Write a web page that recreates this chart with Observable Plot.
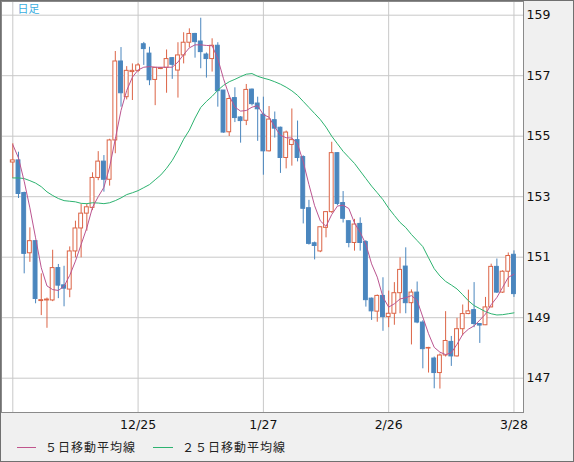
<!DOCTYPE html>
<html><head><meta charset="utf-8">
<script src="https://cdn.jsdelivr.net/npm/d3@7"></script>
<script src="https://cdn.jsdelivr.net/npm/@observablehq/plot@0.6"></script>
<style>
html,body{margin:0;padding:0;background:#fff}
#wrap{position:relative;width:574px;height:462px;box-sizing:border-box;border:1px solid #707070;background:#f0f0f0;overflow:hidden}
#chart{position:absolute;left:0;top:0}
#chart svg{display:block}
.lg-line{position:absolute;height:1px}
.lg-text{position:absolute;font-family:"Noto Sans CJK JP",sans-serif;font-size:12px;letter-spacing:1px;line-height:16px;color:#222;white-space:nowrap}
</style></head>
<body>
<div id="wrap"><div id="chart"></div>
<div class="lg-line" style="left:16px;top:446px;width:19px;background:#c0558c"></div>
<div class="lg-text" style="left:44px;top:438px">５日移動平均線</div>
<div class="lg-line" style="left:152px;top:446px;width:20px;background:#2db370"></div>
<div class="lg-text" style="left:181px;top:438px">２５日移動平均線</div>
</div>
<script>
const opens = [154.13,154.20,153.12,151.13,151.53,149.55,149.57,149.57,150.64,150.07,
149.93,151.19,151.95,152.44,152.63,153.62,154.16,153.56,154.86,157.47,
156.29,157.12,157.16,158.04,157.73,156.86,157.22,157.26,157.58,157.17,
157.67,158.09,158.38,158.13,157.70,157.55,157.99,156.51,155.13,156.26,
155.62,155.51,156.54,156.08,155.71,154.50,155.53,155.28,154.28,154.71,
154.87,154.31,152.62,151.46,151.19,151.97,152.49,154.44,152.79,152.19,
151.47,152.10,151.50,149.63,149.20,149.72,149.02,149.13,149.81,150.69,
149.48,149.83,148.84,147.98,147.65,147.17,147.75,148.20,147.72,148.62,
149.12,149.25,148.79,148.75,149.34,150.68,149.83,150.52,151.08];
const closes = [154.20,153.09,151.11,151.53,149.62,149.58,149.60,150.64,150.06,149.96,
151.19,151.95,152.44,152.65,153.62,154.16,153.56,154.86,157.47,156.42,
157.16,157.16,157.34,157.88,156.85,157.26,157.25,157.55,157.36,157.67,
158.09,158.38,158.11,157.78,157.55,157.99,156.49,155.12,156.23,155.60,
155.50,156.53,156.06,155.89,154.50,155.55,155.25,154.28,155.12,154.87,
154.28,152.60,151.44,151.37,151.99,152.49,154.44,152.76,152.27,151.47,
152.08,151.47,149.58,149.21,149.72,149.02,149.13,149.81,150.58,149.48,
149.83,148.84,147.96,148.00,147.17,147.75,148.23,147.72,148.62,149.12,
149.21,148.79,148.74,149.34,150.68,149.83,150.52,151.04,149.78];
const highs = [154.75,154.47,153.15,151.97,151.55,150.45,149.65,151.23,150.76,150.70,
151.34,152.19,152.74,152.76,153.79,154.49,154.36,154.90,157.80,157.93,
157.30,157.39,157.40,158.10,157.94,157.26,157.27,157.85,157.60,158.09,
158.42,158.55,158.40,158.90,157.75,158.22,158.09,156.51,156.34,156.60,
155.65,156.71,156.56,156.29,156.29,155.98,155.80,155.30,155.17,155.90,
155.50,154.35,152.88,151.50,152.00,152.50,154.80,154.45,153.17,152.20,
152.25,152.30,151.55,149.65,149.75,150.32,149.88,150.16,150.98,151.31,
149.92,150.18,148.90,148.02,147.70,147.80,149.20,148.38,148.98,149.42,
149.91,150.16,148.80,149.67,150.77,150.94,150.55,151.14,151.21];
const lows = [153.60,152.94,150.45,150.83,149.46,149.07,148.65,149.53,149.63,149.36,
149.66,150.98,150.98,151.86,152.54,153.53,153.15,153.35,154.42,155.96,
156.20,156.18,157.10,157.34,156.67,156.01,157.20,156.42,156.88,156.26,
157.39,157.92,157.58,157.23,156.92,157.12,155.96,155.10,154.99,155.45,
154.77,155.35,156.00,154.83,153.71,154.48,154.94,153.77,153.92,154.01,
154.15,152.10,151.40,150.91,151.15,151.64,152.45,152.70,152.13,151.31,
151.20,151.20,149.35,148.91,148.85,148.55,148.67,148.75,149.13,149.13,
148.10,148.80,147.31,147.17,146.65,146.64,147.70,147.39,147.70,148.40,
149.10,148.67,148.15,148.74,149.33,149.80,149.80,150.00,149.67];
const ma5 = [154.72,154.28,153.51,152.63,151.64,150.65,150.05,149.93,149.90,150.04,
150.40,150.87,151.42,151.97,152.65,153.00,153.31,153.98,154.91,155.85,
156.51,156.95,157.19,157.28,157.30,157.28,157.28,157.28,157.28,157.45,
157.70,157.92,158.02,158.02,158.00,157.99,157.56,156.90,156.34,155.96,
155.83,155.85,155.96,156.01,155.71,155.63,155.30,155.03,154.95,154.94,
154.75,154.15,153.40,152.70,152.20,152.02,152.41,152.69,152.72,152.61,
152.13,151.82,151.43,150.78,150.34,149.68,149.35,149.46,149.62,149.66,
149.73,149.57,149.02,148.47,148.02,147.86,147.78,147.84,148.12,148.45,
148.62,148.73,148.92,149.12,149.43,149.67,150.00,150.33,150.44];
const ma25 = [153.62,153.62,153.60,153.53,153.45,153.33,153.16,153.04,152.94,152.87,
152.85,152.83,152.78,152.77,152.80,152.79,152.77,152.80,152.87,152.96,
153.07,153.13,153.20,153.30,153.40,153.56,153.72,153.94,154.20,154.53,
154.90,155.20,155.60,155.95,156.15,156.32,156.52,156.68,156.80,156.88,
156.97,157.05,157.07,156.98,156.92,156.87,156.80,156.72,156.62,156.50,
156.35,156.15,155.95,155.75,155.55,155.30,155.00,154.75,154.50,154.30,
154.10,153.85,153.60,153.35,153.13,152.90,152.62,152.38,152.15,151.98,
151.75,151.55,151.35,150.98,150.62,150.38,150.20,150.08,149.95,149.76,
149.56,149.40,149.30,149.20,149.13,149.09,149.10,149.13,149.16];
const gridIdx = [0, 22, 44, 66, 88];
const dateLabels = ["11/25", "12/25", "1/27", "2/26", "3/28"];
const labelIdx = [22, 44, 66, 88];
const yTicks = [147, 149, 151, 153, 155, 157, 159];

const RED = "#dc6446", BLUE = "#4a86be";
const candles = opens.map((o, i) => ({i, open: o, close: closes[i], high: highs[i], low: lows[i]}));
const up = d => d.close >= d.open;
const hw = 0.34;

const chart = Plot.plot({
  width: 572, height: 436,
  marginTop: 0, marginLeft: 0, marginRight: 50, marginBottom: 25,
  style: {background: "transparent", fontFamily: "DejaVu Sans, sans-serif", fontSize: "12.5px", color: "#111"},
  x: {type: "linear", domain: [-1.984, 89.675]},
  y: {domain: [145.866, 159.453]},
  color: {type: "identity"},
  marks: [
    Plot.frame({fill: "white"}),
    Plot.ruleY(yTicks, {stroke: "#c8c8c8"}),
    Plot.ruleX(gridIdx, {stroke: "#c8c8c8"}),
    Plot.ruleX(candles, {x: "i", y1: "low", y2: "high", stroke: d => up(d) ? RED : BLUE}),
    Plot.rect(candles, {x1: d => d.i - hw, x2: d => d.i + hw, y1: "open", y2: "close",
      fill: d => up(d) ? "white" : BLUE, stroke: d => up(d) ? RED : BLUE}),
    Plot.line(ma25, {x: (d, i) => i, y: d => d, stroke: "#2db370", strokeWidth: 1}),
    Plot.line(ma5, {x: (d, i) => i, y: d => d, stroke: "#bb5590", strokeWidth: 1}),
    Plot.frame({stroke: "#8a8a8a"}),
    Plot.axisX({ticks: labelIdx, tickFormat: v => dateLabels[gridIdx.indexOf(v)], tickSize: 0, tickPadding: 8, label: null}),
    Plot.axisY({anchor: "right", ticks: yTicks, tickSize: 0, tickPadding: 3, label: null}),
    Plot.text(["日足"], {frameAnchor: "top-left", dx: 16, dy: 4, textAnchor: "start", lineAnchor: "top",
      fill: "#3aaee0", fontSize: 11, fontFamily: "Noto Sans CJK JP, sans-serif"})
  ]
});
document.getElementById("chart").appendChild(chart);
</script>
</body></html>
